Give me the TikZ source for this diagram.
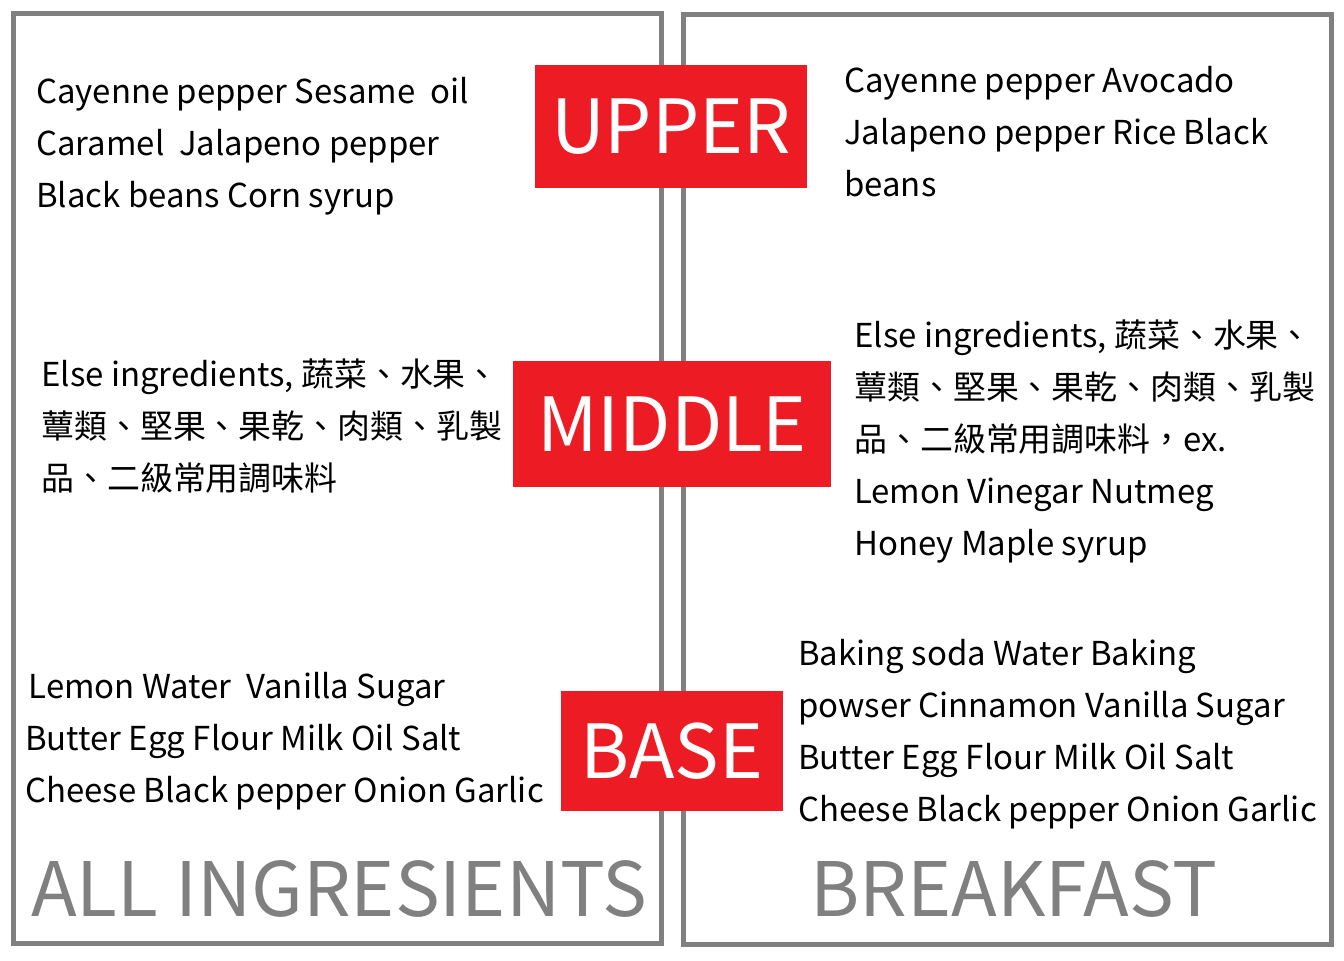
\documentclass[tikz,border=0pt]{standalone}
\usepackage{fontspec}
\newfontfamily\cjk{Noto Sans CJK TC}
\definecolor{framegray}{HTML}{808080}
\definecolor{tagred}{HTML}{ED1C24}

\begin{document}
\begin{tikzpicture}[x=0.75pt,y=-0.75pt,
  frame/.style={draw=framegray,line width=3.75pt},
  tag/.style={fill=tagred,text=white,inner sep=0pt,
              font=\cjk\fontsize{56}{60}\selectfont,
              text height=41pt,text depth=0pt},
  items/.style={anchor=base west,align=left,inner sep=0pt,
                font=\cjk\fontsize{24.7}{39}\selectfont},
  heading/.style={anchor=base west,inner sep=0pt,text=framegray,
                  font=\cjk\fontsize{56.3}{60}\selectfont},
]
\useasboundingbox (0,0) rectangle (1344,960);
\draw[frame] (13.5,13.5) rectangle (661.5,943.5);
\draw[frame] (683.5,14.5) rectangle (1331.5,944.5);

\node[tag,minimum width=204pt,minimum height=92.25pt] (upper) at (671,126.5) {UPPER};
\node[tag,minimum width=238.5pt,minimum height=94.5pt] (middle) at (672,424) {MIDDLE};
\node[tag,minimum width=166.5pt,minimum height=90pt] (base) at (672,751) {BASE};

\node[items] (allupper) at (36,207) {Cayenne pepper Sesame\ \ oil\\Caramel\ \ Jalapeno pepper\\Black beans Corn syrup};
\node[items] (bfupper) at (844,196) {Cayenne pepper Avocado\\Jalapeno pepper Rice Black\\beans};

\node[items] (allmiddle) at (41,490) {Else ingredients, 蔬菜、水果、\\蕈類、堅果、果乾、肉類、乳製\\品、二級常用調味料};
\node[items] (bfmiddle) at (854,555) {Else ingredients, 蔬菜、水果、\\蕈類、堅果、果乾、肉類、乳製\\品、二級常用調味料，ex.\\Lemon Vinegar Nutmeg\\Honey Maple syrup};

\node[items] (allbase) at (25,802) {\hspace*{2.5pt}Lemon Water\ \ Vanilla Sugar\\Butter Egg Flour Milk Oil Salt\\Cheese Black pepper Onion Garlic};
\node[items] (bfbase) at (798,821) {Baking soda Water Baking\\powser Cinnamon Vanilla Sugar\\Butter Egg Flour Milk Oil Salt\\Cheese Black pepper Onion Garlic};

\node[heading] (alltitle) at (31,916) {ALL INGRESIENTS};
\node[heading] (bftitle) at (810,916) {BREAKFAST};
\end{tikzpicture}
\end{document}
